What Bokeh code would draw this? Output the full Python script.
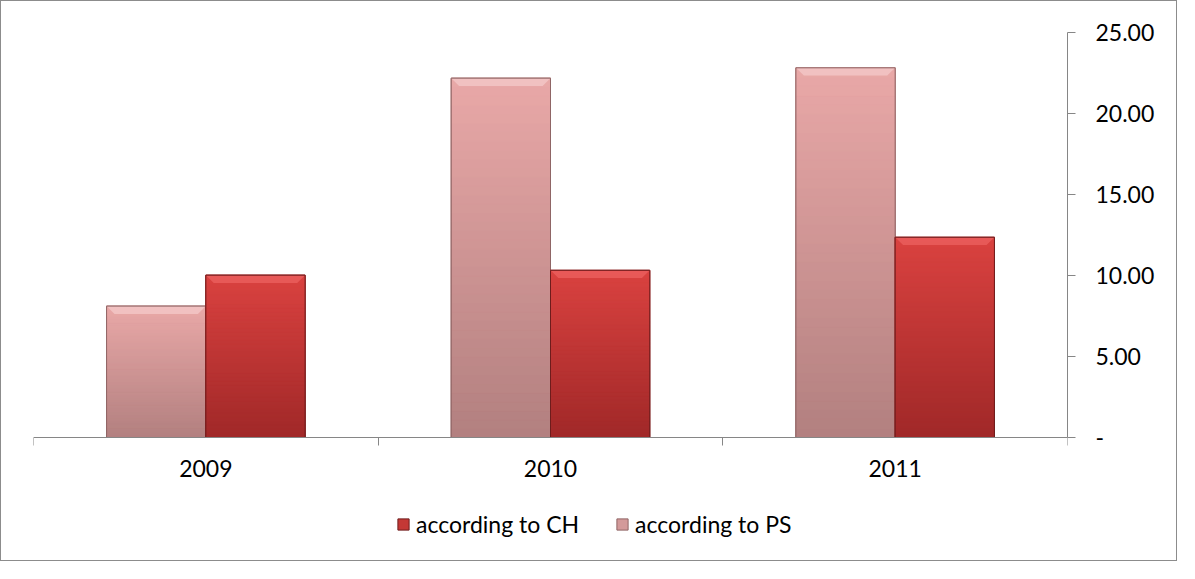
import numpy as np
from bokeh.plotting import figure
from bokeh.models import (FixedTicker, Legend, LegendItem, ColumnDataSource, Range1d)
from bokeh.embed import file_html
from bokeh.resources import INLINE

# ---- data ----
years = ["2009", "2010", "2011"]
ch_values = [10.02, 10.32, 12.36]   # according to CH
ps_values = [8.11, 22.18, 22.82]    # according to PS
y_ticks = [0, 5, 10, 15, 20, 25]
Y_MAX = 25

# ---- style ----
FONT = "Lato"
FS = "23px"
AXIS_COLOR = "#868686"
BAR_W = 0.288
N_SLICES = 40
BEVEL_H = 0.48      # data units (~8px)
BEVEL_IN = 0.023    # data units (~8px)

FIG_W, FIG_H = 1177, 561
TOP_PAD, LEFT_PAD, RIGHT_PAD = 31, 32, 111
PLOT_H = 405        # pixel height of 0..Y_MAX
Y_MIN = -Y_MAX * (FIG_H - TOP_PAD - PLOT_H) / PLOT_H   # frame extends below the axis to hold the legend

PS_TOP, PS_BOT = (233, 168, 168), (178, 128, 127)
CH_TOP, CH_BOT = (218, 66, 64), (160, 40, 40)
PS_LINE, CH_LINE = "#8f6565", "#6e1c1c"
PS_BEVEL, CH_BEVEL = "#f4c9c9", "#ec6260"
PS_MID, CH_MID = "#d39a9a", "#c43835"

p = figure(width=FIG_W, height=FIG_H, output_backend="svg", toolbar_location=None,
           x_range=Range1d(0, 3), y_range=Range1d(Y_MIN, Y_MAX), y_axis_location="right",
           min_border_left=LEFT_PAD, min_border_top=TOP_PAD, min_border_right=RIGHT_PAD,
           min_border_bottom=0)
p.styles = {"border": "1px solid #8c8c8c"}
p.xgrid.visible = False
p.ygrid.visible = False
p.outline_line_color = None


def hexc(c):
    return "#%02x%02x%02x" % tuple(int(round(v)) for v in c)


def draw_series(values, offset, top_c, bot_c, line_c, bevel_c, mid_c):
    ls = [i + 0.5 - BAR_W if offset < 0 else i + 0.5 for i in range(len(values))]
    rs = [x + BAR_W for x in ls]
    # bar body (also used as legend glyph)
    body = p.quad(left=ls, right=rs, bottom=[0] * len(values), top=values,
                  fill_color=mid_c, line_color=line_c, line_width=1)
    # vertical gradient
    lefts, rights, bottoms, tops, colors = [], [], [], [], []
    for l, r, v in zip(ls, rs, values):
        for k in range(N_SLICES):
            t = (k + 0.5) / N_SLICES
            col = [bot_c[j] + (top_c[j] - bot_c[j]) * t for j in range(3)]
            lefts.append(l); rights.append(r)
            bottoms.append(v * k / N_SLICES); tops.append(v * (k + 1) / N_SLICES)
            colors.append(hexc(col))
    src = ColumnDataSource(dict(left=lefts, right=rights, bottom=bottoms, top=tops, color=colors))
    p.quad(left="left", right="right", bottom="bottom", top="top", fill_color="color",
           line_color="color", line_width=1, source=src)
    # bevel on top
    xs, ys = [], []
    for l, r, v in zip(ls, rs, values):
        xs.append([l, r, r - BEVEL_IN, l + BEVEL_IN])
        ys.append([v, v, v - BEVEL_H, v - BEVEL_H])
    p.patches(xs=xs, ys=ys, fill_color=bevel_c, fill_alpha=0.75, line_color=None)
    # outline
    p.quad(left=ls, right=rs, bottom=[0] * len(values), top=values, fill_color=None,
           line_color=line_c, line_width=1)
    return body


ps_body = draw_series(ps_values, -1, PS_TOP, PS_BOT, PS_LINE, PS_BEVEL, PS_MID)
ch_body = draw_series(ch_values, +1, CH_TOP, CH_BOT, CH_LINE, CH_BEVEL, CH_MID)

# x axis, drawn at y = 0
centers = [i + 0.5 for i in range(len(years))]
bounds = [float(i) for i in range(len(years) + 1)]
xa = p.xaxis[0]
xa.fixed_location = 0
xa.ticker = FixedTicker(ticks=centers, minor_ticks=bounds)
xa.major_label_overrides = {c: y for c, y in zip(centers, years)}
xa.major_tick_in = 0
xa.major_tick_out = 0
xa.minor_tick_in = 0
xa.minor_tick_out = 8
xa.minor_tick_line_color = AXIS_COLOR
xa.axis_line_color = AXIS_COLOR
xa.major_label_text_font = FONT
xa.major_label_text_font_size = FS
xa.major_label_text_color = "black"
xa.major_label_standoff = 14

# y axis (right)
ya = p.yaxis[0]
ya.bounds = (0, Y_MAX)
ya.ticker = FixedTicker(ticks=y_ticks, minor_ticks=[])
ya.major_label_overrides = {t: ("-" if t == 0 else f"{t:.2f}") for t in y_ticks}
ya.major_tick_in = 0
ya.major_tick_out = 8
ya.minor_tick_out = 0
ya.major_tick_line_color = AXIS_COLOR
ya.axis_line_color = AXIS_COLOR
ya.major_label_text_font = FONT
ya.major_label_text_font_size = FS
ya.major_label_text_color = "black"
ya.major_label_standoff = 20

legend = Legend(items=[LegendItem(label="according to CH", renderers=[ch_body]),
                       LegendItem(label="according to PS", renderers=[ps_body])],
                orientation="horizontal", location=(363, 24),
                border_line_color=None, background_fill_alpha=0, padding=0, margin=0,
                spacing=36, label_standoff=6, glyph_width=14, glyph_height=14,
                label_height=22, label_text_font=FONT, label_text_font_size=FS,
                label_text_color="black")
p.add_layout(legend, "center")

open("out.html", "w").write(file_html(p, INLINE))
